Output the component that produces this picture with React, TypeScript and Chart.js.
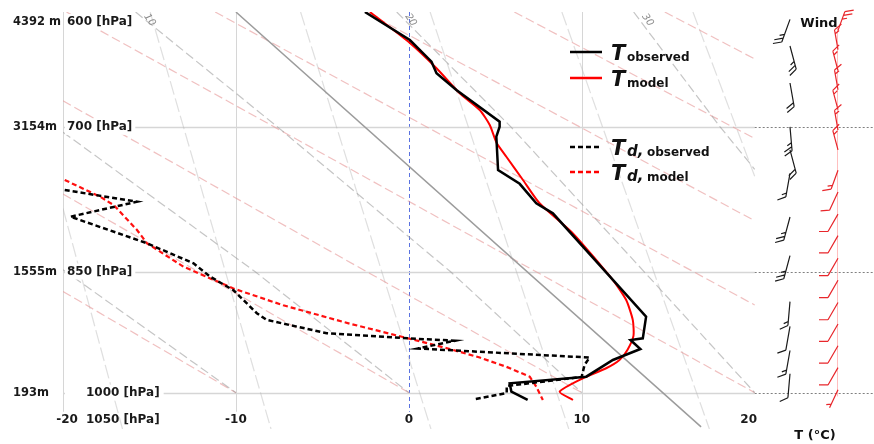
import { useEffect, useRef } from "react";
import { Chart, registerables } from "chart.js";
Chart.register(...registerables);

// ---------- axis data ----------
const pressureLevels = [600, 700, 850, 1000];
const heightLabels = ["4392 m", "3154m", "1555m", "193m"];
const tempTicks = [-20, -10, 0, 10, 20];
const bottomPressure = 1050;

// ---------- observed temperature ----------
const tObsP = [600, 623, 641.4, 651.4, 666.2, 695.2, 699.9, 709.3, 741.7, 755.6, 775.6, 786.1, 903.1, 929.7, 931.8, 943.1, 957.1, 978.8, 987.5, 998.6, 1009.9];
const tObsT = [-2.54, 0.06, 1.31, 1.6, 2.75, 5.25, 5.25, 5.06, 5.16, 6.41, 7.37, 8.33, 13.72, 13.53, 12.82, 13.39, 11.8, 10.26, 5.83, 5.93, 6.87];

// ---------- model temperature ----------
const tModP = [600, 625.5, 647.1, 669.1, 684.3, 698.2, 715.3, 728.6, 751.7, 775.6, 807.5, 859.8, 883.1, 907.0, 926.7, 944.3, 957.1, 967.8, 980.9, 998.6, 1009.9];
const tModT = [-2.25, 0.06, 1.6, 2.94, 4.1, 4.68, 5.08, 5.64, 6.6, 7.56, 9.49, 11.8, 12.57, 12.95, 12.99, 12.64, 12.18, 11.41, 10.06, 8.72, 9.49];

// ---------- observed dew point ----------
const tdObsP = [761.9, 774.0, 789.7, 818.4, 840.7, 855.9, 871.6, 898.9, 907.0, 923.4, 929.7, 932.7, 942.5, 954.0, 963.6, 979.2, 991.1, 1000.5, 1009.2];
const tdObsT = [-19.9, -15.72, -19.57, -15.14, -12.45, -11.49, -10.14, -8.79, -8.22, -4.75, -0.04, 2.66, 0.52, 10.45, 10.16, 9.99, 5.66, 5.66, 3.75];

// ---------- model dew point ----------
const tdModP = [751.7, 768.9, 777.4, 803.9, 818.4, 844.5, 869.6, 889.4, 911.6, 929.7, 943.1, 954.0, 965.9, 978.8, 992.0, 1009.9];
const tdModT = [-19.9, -17.84, -17.07, -15.72, -15.14, -13.03, -10.14, -7.26, -3.41, -0.04, 2.37, 4.1, 5.64, 6.99, 7.37, 7.75];

// ---------- reference lines ----------
const graySolidT = [-10, 16.9];
const graySolidP = [600, 1047];

// dry adiabats [T, p] end points
const dryAdiabats: number[][][] = [
  [[-20, 873], [-10, 1000]],
  [[-20, 766], [0, 1000]],
  [[-20, 676], [10, 1000]],
  [[-19.8, 600], [20, 1000]],
  [[-11.2, 600], [20, 889]],
  [[-2.5, 600], [20, 794]],
  [[6.1, 600], [20, 711]],
  [[14.8, 600], [20, 639]],
];
// moist adiabats [T, p]
const moistAdiabats: number[][][] = [
  [[-20, 848], [-10, 1000]],
  [[-20, 705], [-8.9, 850], [0, 1000]],
  [[-15.8, 600], [-7.6, 700], [2.4, 850], [10, 1000]],
  [[-0.7, 600], [5.9, 700], [13.6, 850], [20, 1000]],
  [[13, 600], [18, 700], [20, 741]],
];
const moistLabels = ["10", "20", "30"];
const moistLabelIdx = [2, 3, 4];
// mixing ratio lines [T, p]
const mixingLines: number[][][] = [
  [[-20, 781], [-16.56, 1050]],
  [[-14.96, 600], [-7.97, 1050]],
  [[-6.26, 600], [1.28, 1050]],
  [[1.23, 600], [9.25, 1050]],
  [[8.85, 600], [17.38, 1050]],
  [[16.43, 600], [20, 748]],
];

// ---------- winds ----------
const windObsP = [606, 628, 660, 700, 722, 745, 790, 832, 885, 915, 945, 975];
const windObsDir = [200, 165, 170, 175, 165, 190, 195, 195, 185, 190, 190, 185];
const windObsSpd = [25, 25, 20, 25, 20, 15, 25, 25, 15, 10, 15, 10];
const windModP = [615, 631, 649, 666, 684, 703, 722, 742, 764, 787, 810, 835, 860, 886, 912, 939, 967, 996];
const windModDir = [20, 350, 345, 350, 345, 350, 345, 200, 205, 210, 210, 210, 210, 210, 210, 210, 210, 205];
const windModSpd = [25, 15, 15, 15, 15, 15, 15, 15, 10, 10, 10, 10, 10, 10, 10, 10, 10, 5];

const FONT = '"DejaVu Sans", Verdana, sans-serif';

const mk = (T: number[], P: number[]) => T.map((t, i) => ({ x: t, y: P[i] }));
const mkPairs = (pts: number[][]) => pts.map(([t, p]) => ({ x: t, y: p }));

function drawBarb(ctx: CanvasRenderingContext2D, x: number, y: number, dir: number, speed: number, len: number, color: string) {
  const r = (dir * Math.PI) / 180;
  const dx = Math.sin(r), dy = -Math.cos(r);
  const tx = x + dx * len, ty = y + dy * len;
  const a = (60 * Math.PI) / 180;
  const bx = dx * Math.cos(a) - dy * Math.sin(a);
  const by = dx * Math.sin(a) + dy * Math.cos(a);
  ctx.strokeStyle = color;
  ctx.lineWidth = 1.2;
  ctx.setLineDash([]);
  ctx.beginPath();
  ctx.moveTo(x, y);
  ctx.lineTo(tx, ty);
  let rem = Math.round(speed / 5) * 5;
  let pos = 0;
  while (rem >= 10) {
    const sx = tx - dx * pos, sy = ty - dy * pos;
    ctx.moveTo(sx, sy);
    ctx.lineTo(sx + bx * 9, sy + by * 9);
    rem -= 10;
    pos += 4;
  }
  if (rem >= 5) {
    if (pos === 0) pos = 4;
    const sx = tx - dx * pos, sy = ty - dy * pos;
    ctx.moveTo(sx, sy);
    ctx.lineTo(sx + bx * 5, sy + by * 5);
  }
  ctx.stroke();
}

const decor = {
  id: "decor",
  beforeDatasetsDraw(chart: any) {
    const { ctx, chartArea: a, scales } = chart;
    const x = scales.x, y = scales.y;
    const xR = x.getPixelForValue(20);
    ctx.save();
    // vertical grid
    for (const t of tempTicks) {
      if (t === 20) continue;
      const px = Math.round(x.getPixelForValue(t)) + 0.5;
      ctx.lineWidth = 1;
      if (t === 0) {
        ctx.strokeStyle = "#5a72e0";
        ctx.setLineDash([4, 3]);
      } else {
        ctx.strokeStyle = "#d6d6d6";
        ctx.setLineDash([]);
      }
      ctx.beginPath();
      ctx.moveTo(px, a.top);
      ctx.lineTo(px, y.getPixelForValue(1026));
      ctx.stroke();
    }
    // horizontal grid
    for (const p of pressureLevels.slice(1)) {
      const py = Math.round(y.getPixelForValue(p)) + 0.5;
      ctx.setLineDash([]);
      ctx.strokeStyle = "#d6d6d6";
      ctx.lineWidth = 1.5;
      ctx.beginPath();
      ctx.moveTo(a.left, py);
      ctx.lineTo(xR, py);
      ctx.stroke();
      ctx.setLineDash([2, 2]);
      ctx.strokeStyle = "#808080";
      ctx.lineWidth = 1;
      ctx.beginPath();
      ctx.moveTo(xR, py);
      ctx.lineTo(a.right, py);
      ctx.stroke();
    }
    // faint model wind staff axis
    ctx.setLineDash([]);
    ctx.strokeStyle = "rgba(255,0,0,0.25)";
    ctx.beginPath();
    ctx.moveTo(a.right - 36.5, y.getPixelForValue(612));
    ctx.lineTo(a.right - 36.5, y.getPixelForValue(1005));
    ctx.stroke();
    ctx.restore();
  },
  afterDatasetsDraw(chart: any) {
    const { ctx, chartArea: a, scales } = chart;
    const x = scales.x, y = scales.y;
    ctx.save();
    ctx.setLineDash([]);
    // moist adiabat labels
    ctx.fillStyle = "#8a8a8a";
    ctx.font = `italic 10px ${FONT}`;
    ctx.textAlign = "center";
    ctx.textBaseline = "middle";
    moistLabels.forEach((lab, i) => {
      const pt = moistAdiabats[moistLabelIdx[i]][0];
      const px = x.getPixelForValue(pt[0]) + 14;
      const py = y.getPixelForValue(pt[1]) + 8;
      ctx.save();
      ctx.translate(px, py);
      ctx.rotate((55 * Math.PI) / 180);
      ctx.fillText(lab, 0, 0);
      ctx.restore();
    });
    ctx.save();
    ctx.translate(x.getPixelForValue(-20) + 11, y.getPixelForValue(1000));
    ctx.rotate((55 * Math.PI) / 180);
    ctx.fillText("-20", 0, 0);
    ctx.restore();

    // left labels
    ctx.textAlign = "left";
    ctx.textBaseline = "middle";
    pressureLevels.forEach((p, i) => {
      let py = y.getPixelForValue(p);
      if (i === 0) py += 10;
      ctx.font = `bold 12px ${FONT}`;
      const lx = i === 3 ? a.left + 23 : a.left + 4;
      const txt = `${p} [hPa]`;
      const w = ctx.measureText(txt).width;
      ctx.fillStyle = "#ffffff";
      ctx.fillRect(i === 3 ? a.left + 2 : lx - 2, py - 8, w + (i === 3 ? 25 : 5), 16);
      ctx.fillStyle = "#1a1a1a";
      ctx.fillText(txt, lx, py);
      ctx.font = `bold 11.5px ${FONT}`;
      ctx.fillText(heightLabels[i], 13, py);
    });
    // bottom row
    ctx.font = `bold 12px ${FONT}`;
    const by = y.getPixelForValue(bottomPressure) - 9;
    ctx.fillStyle = "#1a1a1a";
    ctx.fillText(`${bottomPressure} [hPa]`, a.left + 23, by);
    ctx.textAlign = "center";
    tempTicks.forEach((t) => {
      let px = x.getPixelForValue(t);
      if (t === -20) px += 4;
      if (t === 20) px -= 6;
      ctx.fillText(String(t), px, by);
    });

    // legend
    const lx0 = 570, lx1 = 602;
    const rows = [
      { y: 52, color: "#000000", dash: [] as number[], d: "", sub: "observed" },
      { y: 78, color: "#ff0000", dash: [] as number[], d: "", sub: "model" },
      { y: 147, color: "#000000", dash: [5, 3], d: "d,", sub: "observed" },
      { y: 172, color: "#ff0000", dash: [5, 3], d: "d,", sub: "model" },
    ];
    rows.forEach((r) => {
      ctx.strokeStyle = r.color;
      ctx.lineWidth = 2.5;
      ctx.setLineDash(r.dash);
      ctx.beginPath();
      ctx.moveTo(lx0, r.y);
      ctx.lineTo(lx1, r.y);
      ctx.stroke();
      ctx.setLineDash([]);
      ctx.fillStyle = "#111111";
      ctx.textAlign = "left";
      ctx.textBaseline = "alphabetic";
      ctx.font = `italic bold 21px ${FONT}`;
      ctx.fillText("T", 611, r.y + 8);
      let sx = 627;
      if (r.d) {
        ctx.font = `italic bold 15px ${FONT}`;
        ctx.fillText(r.d, sx, r.y + 9);
        sx += 20;
      }
      ctx.font = `bold 12px ${FONT}`;
      ctx.fillText(r.sub, sx, r.y + 9);
    });

    // wind column
    ctx.font = `bold 13px ${FONT}`;
    ctx.textAlign = "center";
    ctx.textBaseline = "middle";
    ctx.fillStyle = "#111111";
    ctx.fillText("Wind", a.right - 55, 24);
    ctx.fillText("T (°C)", a.right - 59, 436);
    windObsP.forEach((p, i) => {
      drawBarb(ctx, a.right - 84, y.getPixelForValue(p), windObsDir[i], windObsSpd[i], 24, "#1a1a1a");
    });
    windModP.forEach((p, i) => {
      drawBarb(ctx, a.right - 36, y.getPixelForValue(p), windModDir[i], windModSpd[i], 20, "#e8262b");
    });
    ctx.restore();
  },
};

export default function App() {
  const ref = useRef<HTMLCanvasElement | null>(null);
  useEffect(() => {
    if (!ref.current) return;
    const bg = (pts: number[][], color: string, dash: number[], order: number) => ({
      data: mkPairs(pts),
      showLine: true,
      borderColor: color,
      borderWidth: 1.2,
      borderDash: dash,
      pointRadius: 0,
      order,
    });
    const datasets: any[] = [
      { label: "T observed", data: mk(tObsT, tObsP), showLine: true, borderColor: "#000000", borderWidth: 2.5, pointRadius: 0, order: 0 },
      { label: "T model", data: mk(tModT, tModP), showLine: true, borderColor: "#ff0000", borderWidth: 2, pointRadius: 0, tension: 0.2, order: 1 },
      { label: "Td observed", data: mk(tdObsT, tdObsP), showLine: true, borderColor: "#000000", borderWidth: 2.5, borderDash: [5, 3], pointRadius: 0, order: 2 },
      { label: "Td model", data: mk(tdModT, tdModP), showLine: true, borderColor: "#ff1010", borderWidth: 2.2, borderDash: [5, 3], pointRadius: 0, order: 3 },
      { label: "ref", data: mk(graySolidT, graySolidP), showLine: true, borderColor: "#9c9c9c", borderWidth: 1.5, pointRadius: 0, order: 4 },
      ...moistAdiabats.map((l) => bg(l, "rgba(150,150,150,0.55)", [9, 4], 5)),
      ...dryAdiabats.map((l) => bg(l, "rgba(230,150,150,0.6)", [9, 4], 6)),
      ...mixingLines.map((l) => bg(l, "rgba(185,185,185,0.45)", [14, 4], 7)),
    ];
    const chart = new Chart(ref.current, {
      type: "scatter",
      data: { datasets },
      options: {
        animation: false,
        responsive: false,
        devicePixelRatio: 1,
        layout: { padding: { left: 63, top: 12, right: 0, bottom: 15 } },
        plugins: { legend: { display: false }, tooltip: { enabled: false } },
        scales: {
          x: { type: "linear", min: -20, max: 26.9, display: false },
          y: { type: "logarithmic", min: 600, max: bottomPressure, reverse: true, display: false },
        },
      },
      plugins: [decor],
    });
    return () => chart.destroy();
  }, []);
  return (
    <div style={{ position: "absolute", left: 0, top: 0, width: 874, height: 444, background: "#fff" }}>
      <canvas ref={ref} width={874} height={444} />
    </div>
  );
}
